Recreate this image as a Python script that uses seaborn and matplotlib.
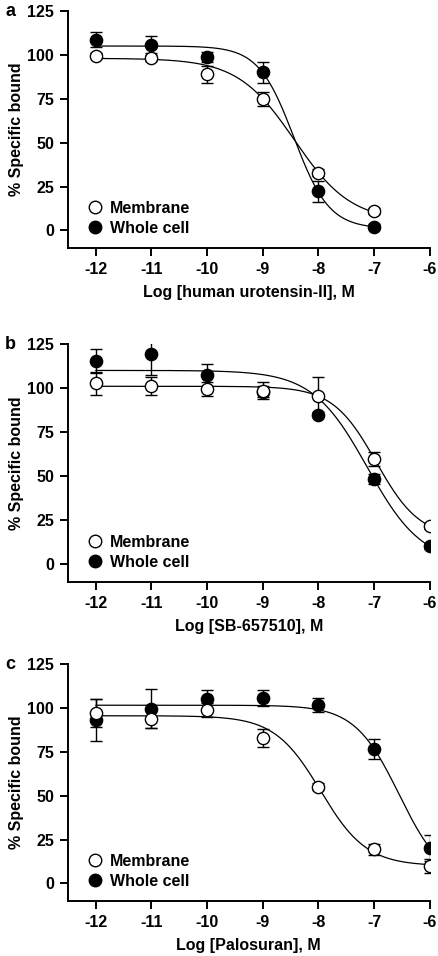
import numpy as np
import pandas as pd
import matplotlib
matplotlib.use("Agg")
import matplotlib.pyplot as plt
from matplotlib.lines import Line2D
import seaborn as sns

# --- data ---
log_conc = [-12, -11, -10, -9, -8, -7, -6]

a_membrane = [99.4, 98.2, 88.9, 75.0, 32.9, 11.0]
a_membrane_err = [1.5, 1.5, 5.0, 4.0, 2.0, 1.5]
a_whole = [108.7, 105.8, 98.8, 90.0, 22.4, 2.1]
a_whole_err = [4.0, 5.0, 3.0, 6.0, 6.0, 1.5]

b_membrane = [102.7, 101.0, 99.5, 98.6, 95.7, 60.0, 21.7]
b_membrane_err = [6.5, 5.0, 4.0, 5.0, 10.5, 4.0, 1.5]
b_whole = [115.4, 119.5, 107.4, 98.0, 84.8, 48.5, 10.4]
b_whole_err = [7.0, 12.0, 6.0, 3.0, 1.5, 3.0, 1.5]

c_membrane = [97.3, 93.9, 98.6, 82.9, 55.1, 19.4, 9.8]
c_membrane_err = [8.0, 5.4, 4.0, 5.0, 2.0, 3.0, 4.0]
c_whole = [93.1, 99.5, 104.8, 105.7, 101.4, 76.8, 20.4]
c_whole_err = [12.0, 11.0, 5.5, 4.6, 4.0, 5.7, 7.4]

# four-parameter logistic fits: (top, bottom, logIC50, hill)
a_membrane_fit = (98.0, 5.0, -8.43, 0.85)
a_whole_fit = (105.0, 1.0, -8.44, 1.37)
b_membrane_fit = (101.0, 15.0, -6.96, 1.11)
b_whole_fit = (110.0, 0.0, -7.12, 0.88)
c_membrane_fit = (95.5, 10.0, -7.96, 1.05)
c_whole_fit = (101.5, 0.0, -6.55, 1.09)

panels = [
    ("a", "Log [human urotensin-II], M", a_membrane, a_membrane_err, a_whole, a_whole_err,
     a_membrane_fit, a_whole_fit),
    ("b", "Log [SB-657510], M", b_membrane, b_membrane_err, b_whole, b_whole_err,
     b_membrane_fit, b_whole_fit),
    ("c", "Log [Palosuran], M", c_membrane, c_membrane_err, c_whole, c_whole_err,
     c_membrane_fit, c_whole_fit),
]


def logistic(x, top, bottom, logic50, hill):
    return bottom + (top - bottom) / (1 + 10 ** ((x - logic50) * hill))


sns.set_style("ticks")
plt.rcParams["font.family"] = ["Liberation Sans", "DejaVu Sans"]
plt.rcParams["font.weight"] = "bold"
plt.rcParams["axes.labelweight"] = "bold"
plt.rcParams["axes.unicode_minus"] = False
# plain black ink everywhere
for key in ("text.color", "axes.labelcolor", "axes.edgecolor", "xtick.color", "ytick.color"):
    plt.rcParams[key] = "black"

fig = plt.figure(figsize=(4.38, 9.56), dpi=100)
# axes boxes in figure fractions (left, bottom, width, height)
boxes = [(0.155, 0.7406, 0.826, 0.248),
         (0.155, 0.3912, 0.826, 0.249),
         (0.155, 0.0575, 0.826, 0.248)]

FS = 11.5
for (letter, xlabel, mem, mem_err, wc, wc_err, mem_fit, wc_fit), box in zip(panels, boxes):
    ax = fig.add_axes(box)
    n = len(mem)
    x = log_conc[:n]

    # fitted curves
    xs = np.linspace(x[0], x[-1], 300)
    curves = pd.DataFrame({
        "x": np.concatenate([xs, xs]),
        "y": np.concatenate([logistic(xs, *wc_fit), logistic(xs, *mem_fit)]),
        "series": ["Whole cell"] * len(xs) + ["Membrane"] * len(xs),
    })
    sns.lineplot(data=curves, x="x", y="y", units="series", estimator=None,
                 color="black", lw=0.9, ax=ax, zorder=1)

    # error bars
    ax.errorbar(x, wc, yerr=wc_err, fmt="none", ecolor="black", elinewidth=1.0,
                capsize=4.5, capthick=1.0, zorder=2)
    ax.errorbar(x, mem, yerr=mem_err, fmt="none", ecolor="black", elinewidth=1.0,
                capsize=4.5, capthick=1.0, zorder=2)

    # points: whole cell first, membrane on top
    sns.scatterplot(x=x, y=wc, color="black", edgecolor="black", s=78, linewidth=1.0,
                    ax=ax, zorder=3)
    sns.scatterplot(x=x, y=mem, color="white", edgecolor="black", s=78, linewidth=1.0,
                    ax=ax, zorder=4)

    ax.set_xlim(-12.5, -6)
    ax.set_ylim(-10, 125)
    ax.set_xticks(log_conc)
    ax.set_xticklabels([str(v) for v in log_conc])
    ax.set_yticks([0, 25, 50, 75, 100, 125])
    ax.spines["top"].set_visible(False)
    ax.spines["right"].set_visible(False)
    for s in ("left", "bottom"):
        ax.spines[s].set_linewidth(1.4)
        ax.spines[s].set_color("black")
    ax.tick_params(length=6, width=1.4, labelsize=FS, pad=4, colors="black")
    for lab in ax.get_xticklabels() + ax.get_yticklabels():
        lab.set_fontweight("bold")
    ax.set_xlabel(xlabel, fontsize=FS, fontweight="bold", labelpad=6)
    ax.set_ylabel("% Specific bound", fontsize=FS, fontweight="bold", labelpad=2)

    handles = [
        Line2D([], [], ls="none", marker="o", ms=9, mfc="white", mec="black", mew=1.0),
        Line2D([], [], ls="none", marker="o", ms=9, mfc="black", mec="black", mew=1.0),
    ]
    ax.legend(handles, ["Membrane", "Whole cell"], loc="lower left",
              bbox_to_anchor=(0.03, 0.018), frameon=False, borderpad=0,
              handlelength=1.0, handletextpad=0.45, labelspacing=0.3,
              prop={"size": FS, "weight": "bold"})

    fig.text(10 / 438, box[1] + box[3] - 1 / 956, letter, fontsize=13,
             fontweight="bold", ha="center", va="center")

fig.savefig("out.png", dpi=100)
